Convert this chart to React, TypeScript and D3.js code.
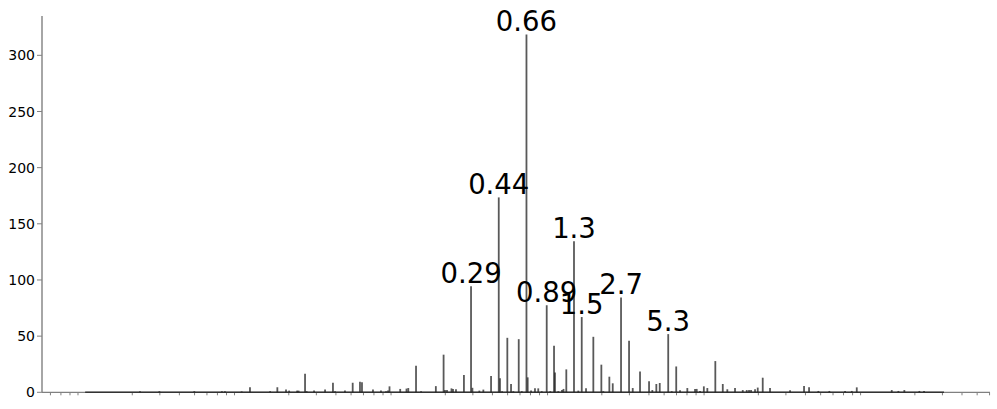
import React from "react";
import * as d3 from "d3";

// spike plot on a log x axis, labelled peaks

const barX = [
  0.00224, 0.00298, 0.00498, 0.00748, 0.00782, 0.01, 0.0113, 0.0152, 0.0169, 0.0192,
  0.0201, 0.0226, 0.0231, 0.0254, 0.026, 0.029, 0.0341, 0.0383, 0.0395, 0.0457,
  0.0512, 0.057, 0.0587, 0.069, 0.0776, 0.0836, 0.0861, 0.088, 0.103, 0.113,
  0.116, 0.13, 0.14, 0.174, 0.195, 0.199, 0.205, 0.219, 0.224, 0.234,
  0.263, 0.292, 0.298, 0.33, 0.35, 0.392, 0.439, 0.447, 0.461, 0.498,
  0.526, 0.544, 0.589, 0.616, 0.66, 0.672, 0.706, 0.748, 0.785, 0.826,
  0.889, 0.937, 0.99, 1.004, 1.054, 1.113, 1.138, 1.186, 1.328, 1.415,
  1.488, 1.585, 1.765, 1.986, 2.044, 2.234, 2.348, 2.653, 2.985, 3.151,
  3.508, 4.006, 4.204, 4.459, 4.688, 5.311, 5.593, 5.975, 6.319, 7.035,
  7.88, 8.077, 8.479, 8.969, 9.443, 10.62, 11.85, 12.67, 14.19, 15.9,
  16.86, 17.44, 17.96, 19.05, 19.82, 21.33, 23.75, 31.89, 39.17, 42.17,
  48.35, 56.84, 71.61, 79.04, 85.07, 142.3, 156.9, 171.3, 213.7, 228.9,
];

const barHeight = [
  1, 1, 1, 1, 1, 0.8, 4.6, 1, 4.5, 2.4,
  1.5, 1.5, 1.5, 16.5, 1, 1.5, 2.5, 8.5, 1, 1.5,
  8.5, 9.5, 9, 2.5, 1.5, 1, 1.5, 5.3, 3, 3.3,
  3.8, 23.7, 1, 5.5, 33.5, 2, 2, 3.5, 3, 2.8,
  15.5, 94.5, 4, 1.5, 2.4, 14.5, 173.5, 12.4, 1, 48.5,
  7.4, 1, 47.3, 1, 318.5, 13.3, 1.5, 3.5, 3.5, 1,
  77.5, 1, 41.5, 17.7, 1, 2, 3, 20.4, 134.5, 1.5,
  67, 3.5, 49.4, 24.6, 1, 13.9, 8, 84.5, 45.8, 3.8,
  18.6, 9.8, 2, 7.4, 8.3, 51.8, 1, 23, 1.8, 3.8,
  3, 3, 1.2, 5.3, 3.8, 27.8, 7.4, 2.7, 3.8, 2,
  2, 2, 2, 2.7, 4.2, 13, 3.8, 1.8, 5.6, 4.4,
  1.2, 1.2, 1.2, 1.2, 4.4, 2, 1.2, 2, 1.2, 1.2,
];

const peakLabels = ["0.29", "0.44", "0.66", "0.89", "1.3", "1.5", "2.7", "5.3"];
const yTicks = [0, 50, 100, 150, 200, 250, 300];
const lineExtent = [0.001, 307];

export default function App() {
  const x = d3.scaleLog().domain([5.3e-4, 604]).range([42, 990]);
  const y = d3.scaleLinear().domain([0, 335]).range([392.3, 16]);

  // minor log ticks only (no labels on x)
  const xTicks = x.ticks().filter((t) => {
    const lead = Math.round(t / Math.pow(10, Math.floor(Math.log10(t) + 1e-9)));
    return lead !== 1;
  });

  const bars = barX.map((v, i) => ({ v, h: barHeight[i] }));

  const labels = peakLabels.map((txt) => {
    const target = parseFloat(txt);
    const near = bars.filter((b) => Math.abs(Math.log(b.v / target)) < 0.05);
    const best = near.reduce((a, b) => (b.h > a.h ? b : a));
    return { txt, v: best.v, h: best.h };
  });

  const font = "'DejaVu Sans', sans-serif";

  return (
    <svg
      width={997}
      height={409}
      style={{ position: "absolute", left: 0, top: 0, background: "#fff" }}
    >
      {/* x axis */}
      <line x1={42} x2={990} y1={y(0)} y2={y(0)} stroke="#808080" strokeWidth={1.2} />
      {xTicks.map((t, i) => (
        <line key={"xt" + i} x1={x(t)} x2={x(t)} y1={y(0)} y2={y(0) + 3} stroke="#808080" strokeWidth={1} />
      ))}
      {/* zero line of the data */}
      <line
        x1={x(lineExtent[0])}
        x2={x(lineExtent[1])}
        y1={y(0)}
        y2={y(0)}
        stroke="#333"
        strokeWidth={1.4}
      />
      {/* y axis */}
      <line x1={42} x2={42} y1={16} y2={y(0)} stroke="#808080" strokeWidth={1.4} />
      {yTicks.map((t) => (
        <g key={"yt" + t}>
          <line x1={37} x2={42} y1={y(t)} y2={y(t)} stroke="#808080" strokeWidth={1} />
          <text x={35} y={y(t)} dy="0.36em" textAnchor="end" fontFamily={font} fontSize={14} fill="#000">
            {t}
          </text>
        </g>
      ))}
      {/* spikes */}
      {bars.map((b, i) => (
        <line
          key={"b" + i}
          x1={x(b.v)}
          x2={x(b.v)}
          y1={y(0)}
          y2={y(b.h)}
          stroke="#222"
          strokeOpacity={0.75}
          strokeWidth={1.8}
        />
      ))}
      {/* peak labels */}
      {labels.map((l) => (
        <text
          key={l.txt}
          x={x(l.v)}
          y={y(l.h) - 3.5}
          textAnchor="middle"
          fontFamily={font}
          fontSize={27.5}
          fill="#000"
        >
          {l.txt}
        </text>
      ))}
    </svg>
  );
}
